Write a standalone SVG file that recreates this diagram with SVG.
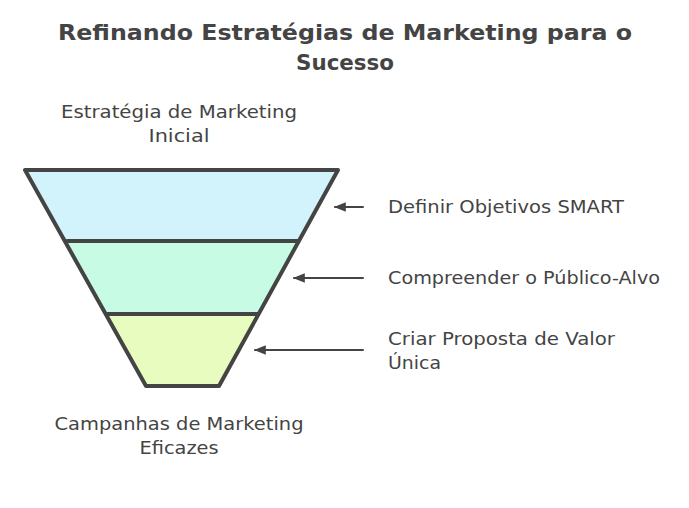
<svg xmlns="http://www.w3.org/2000/svg" width="689" height="508" viewBox="0 0 689 508">
<defs>
<style>
.t{font-family:"DejaVu Sans","Liberation Sans",sans-serif;fill:#444;}
.title{font-size:22px;font-weight:bold;text-anchor:middle;}
.lab{font-size:17px;}
.mid{text-anchor:middle;}
.edge{fill:none;stroke:#444;stroke-width:4;stroke-linejoin:round;stroke-linecap:round;}
.conn{fill:none;stroke:#444;stroke-width:2;stroke-linecap:round;}
</style>
<marker id="ah" viewBox="0 0 10 10" refX="9" refY="5" markerWidth="6" markerHeight="6" orient="auto">
<path d="M0,1 L10,5 L0,9 Z" fill="#444"/>
</marker>
</defs>
<rect width="689" height="508" fill="#fff"/>
<g id="title">
<text class="t title" x="345" y="40" textLength="574" lengthAdjust="spacingAndGlyphs">Refinando Estratégias de Marketing para o</text>
<text class="t title" x="345" y="70" textLength="98" lengthAdjust="spacingAndGlyphs">Sucesso</text>
</g>
<g id="top-label">
<text class="t lab mid" x="179" y="118" textLength="236" lengthAdjust="spacingAndGlyphs">Estratégia de Marketing</text>
<text class="t lab mid" x="179" y="142" textLength="61" lengthAdjust="spacingAndGlyphs">Inicial</text>
</g>
<g id="bottom-label">
<text class="t lab mid" x="179" y="430" textLength="249" lengthAdjust="spacingAndGlyphs">Campanhas de Marketing</text>
<text class="t lab mid" x="179" y="454" textLength="79" lengthAdjust="spacingAndGlyphs">Eficazes</text>
</g>
<g id="layer1">
<polygon points="25,170 338,170 298,241 67,241" fill="#d3f3fc"/>
</g>
<g id="layer2">
<polygon points="67,241 298,241 258,314 107,314" fill="#c8fbe3"/>
</g>
<g id="layer3">
<polygon points="107,314 258,314 219,386 146,386" fill="#e8fcc0"/>
</g>
<g id="funnel-outline">
<polygon class="edge" points="25,170 338,170 219,386 146,386"/>
<line class="edge" x1="67" y1="241" x2="298" y2="241"/>
<line class="edge" x1="107" y1="314" x2="258" y2="314"/>
</g>
<g id="connectors">
<line class="conn" x1="363" y1="207" x2="335" y2="207" marker-end="url(#ah)"/>
<line class="conn" x1="363" y1="278" x2="294" y2="278" marker-end="url(#ah)"/>
<line class="conn" x1="363" y1="350" x2="255" y2="350" marker-end="url(#ah)"/>
</g>
<g id="label1"><text class="t lab" x="388" y="213" textLength="236" lengthAdjust="spacingAndGlyphs">Definir Objetivos SMART</text></g>
<g id="label2"><text class="t lab" x="388" y="284" textLength="272" lengthAdjust="spacingAndGlyphs">Compreender o Público-Alvo</text></g>
<g id="label3">
<text class="t lab" x="388" y="345" textLength="227" lengthAdjust="spacingAndGlyphs">Criar Proposta de Valor</text>
<text class="t lab" x="388" y="369" textLength="53" lengthAdjust="spacingAndGlyphs">Única</text>
</g>
</svg>
